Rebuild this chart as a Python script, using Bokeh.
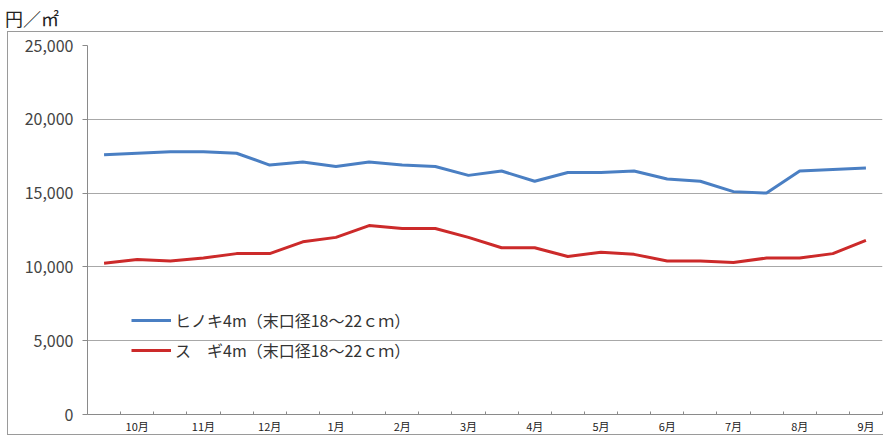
from bokeh.plotting import figure
from bokeh.models import FixedTicker, Legend, LegendItem, Div, NumeralTickFormatter, Range1d, Spacer
from bokeh.layouts import column, row
from bokeh.embed import file_html
from bokeh.resources import INLINE

# ---- data ----
unit_label = "円／㎡"
month_labels = ["10月", "11月", "12月", "1月", "2月", "3月", "4月", "5月", "6月", "7月", "8月", "9月"]
hinoki_label = "ヒノキ4m（末口径18～22ｃｍ）"
sugi_label = "ス　ギ4m（末口径18～22ｃｍ）"
hinoki = [17600, 17700, 17800, 17800, 17700, 16900, 17100, 16800, 17100, 16900, 16800, 16200,
          16500, 15800, 16400, 16400, 16500, 15950, 15800, 15100, 15000, 16500, 16600, 16700]
sugi = [10250, 10500, 10400, 10600, 10900, 10900, 11700, 12000, 12800, 12600, 12600, 12000,
        11300, 11300, 10700, 11000, 10850, 10400, 10400, 10300, 10600, 10600, 10900, 11800]
y_ticks = [0, 5000, 10000, 15000, 20000, 25000]

n = len(hinoki)
xs = list(range(n))
FONT = "Noto Sans CJK JP"

p = figure(width=876, height=404, output_backend="svg", toolbar_location=None,
           x_range=Range1d(-0.5, n - 0.5), y_range=Range1d(0, 25000),
           min_border_left=79, min_border_right=2, min_border_top=13, min_border_bottom=10,
           background_fill_color="white", border_fill_color="white",
           styles={"border-left": "1px solid #9a9a9a", "border-top": "1px solid #9a9a9a",
                   "border-bottom": "1px solid #9a9a9a"})
p.outline_line_color = None

# grid
p.xgrid.grid_line_color = None
p.ygrid.ticker = FixedTicker(ticks=y_ticks)
p.ygrid.grid_line_color = "#a8a8a8"
p.ygrid.grid_line_width = 1

# y axis
p.yaxis.ticker = FixedTicker(ticks=y_ticks)
p.yaxis.formatter = NumeralTickFormatter(format="0,0")
p.yaxis.axis_line_color = "#8a8a8a"
p.yaxis.major_tick_line_color = "#8a8a8a"
p.yaxis.major_tick_out = 5
p.yaxis.major_tick_in = 0
p.yaxis.minor_tick_line_color = None
p.yaxis.major_label_text_font = FONT
p.yaxis.major_label_text_font_size = "16px"
p.yaxis.major_label_text_color = "#444444"
p.yaxis.major_label_standoff = 9

# x axis
odd_ticks = [i for i in xs if i % 2 == 1]
p.xaxis.ticker = FixedTicker(ticks=odd_ticks, minor_ticks=[k - 0.5 for k in range(n + 1)])
p.xaxis.major_label_overrides = {t: month_labels[j] for j, t in enumerate(odd_ticks)}
p.xaxis.axis_line_color = "#8a8a8a"
p.xaxis.major_tick_line_color = None
p.xaxis.major_tick_out = 0
p.xaxis.major_tick_in = 0
p.xaxis.minor_tick_line_color = "#8a8a8a"
p.xaxis.minor_tick_in = 3
p.xaxis.minor_tick_out = 0
p.xaxis.major_label_text_font = FONT
p.xaxis.major_label_text_font_size = "11px"
p.xaxis.major_label_text_color = "#222222"
p.xaxis.major_label_standoff = 3

r1 = p.line(xs, hinoki, line_color="#4a7fc3", line_width=3)
r2 = p.line(xs, sugi, line_color="#cc2a2a", line_width=3)

legend = Legend(items=[LegendItem(label=hinoki_label, renderers=[r1]),
                       LegendItem(label=sugi_label, renderers=[r2])],
                location=(44, 52), orientation="vertical",
                background_fill_alpha=0, border_line_color=None,
                padding=0, margin=0, spacing=6,
                glyph_width=40, glyph_height=20, label_standoff=4,
                label_text_font=FONT, label_text_font_size="16px", label_text_color="#333333")
p.add_layout(legend)

title = Div(text=unit_label, width=200, height=21,
            styles={"font-family": FONT, "font-size": "18px", "color": "#222",
                    "line-height": "20px", "padding-top": "3px"})

layout = column(title, row(Spacer(width=7, height=10), p, spacing=0), spacing=0)
open("out.html", "w").write(file_html(layout, INLINE))
